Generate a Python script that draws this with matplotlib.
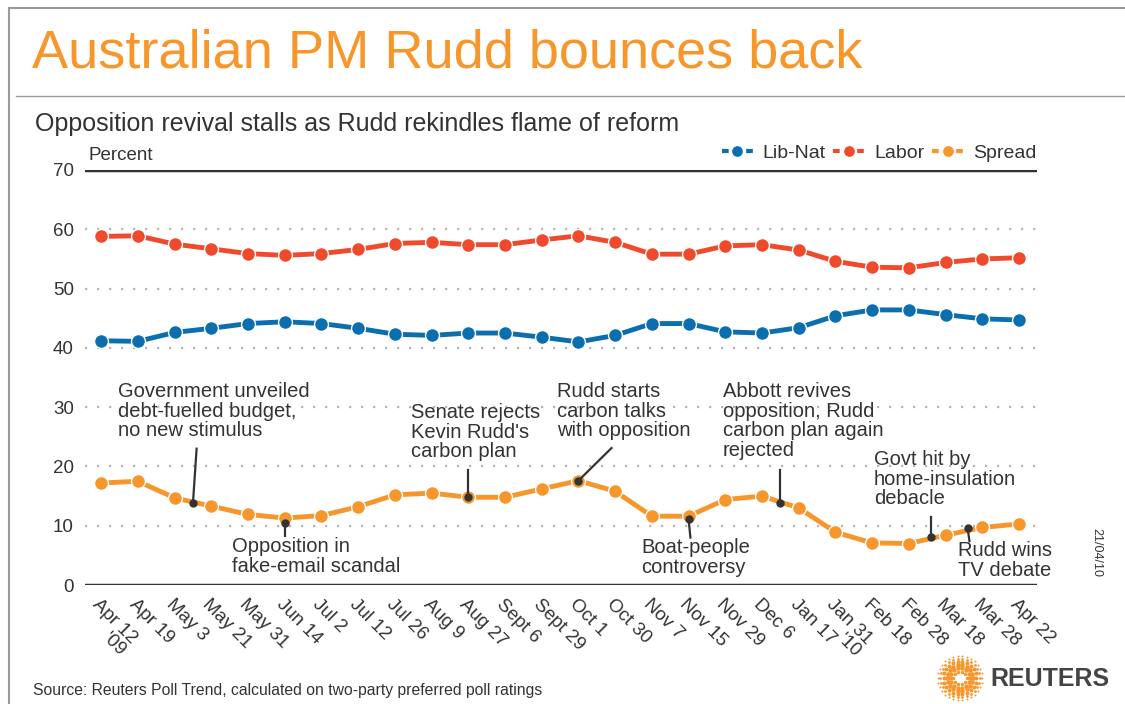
import numpy as np
import matplotlib
matplotlib.use("Agg")
import matplotlib.pyplot as plt
from matplotlib.lines import Line2D

plt.rcParams['font.family'] = ['Liberation Sans', 'DejaVu Sans']

W, H = 1125, 704

# poll dates (tick labels)
dates = ["Apr 12\n'09", "Apr 19", "May 3", "May 21", "May 31", "Jun 14", "Jul 2",
         "Jul 12", "Jul 26", "Aug 9", "Aug 27", "Sept 6", "Sept 29", "Oct 1",
         "Oct 30", "Nov 7", "Nov 15", "Nov 29", "Dec 6", "Jan 17", "Jan 31\n'10",
         "Feb 18", "Feb 28", "Mar 18", "Mar 28", "Apr 22"]

lib_nat = [41.2, 41.1, 42.6, 43.3, 44.1, 44.4, 44.1, 43.3, 42.3, 42.1, 42.5, 42.5, 41.8,
           41.0, 42.1, 44.1, 44.1, 42.7, 42.5, 43.4, 45.4, 46.4, 46.4, 45.6, 44.9, 44.7]
labor = [58.8, 58.9, 57.5, 56.7, 55.9, 55.6, 55.9, 56.6, 57.6, 57.8, 57.4, 57.4, 58.2,
         58.9, 57.8, 55.8, 55.8, 57.2, 57.4, 56.5, 54.6, 53.6, 53.5, 54.4, 55.0, 55.2]
spread = [17.2, 17.5, 14.7, 13.3, 11.9, 11.3, 11.7, 13.2, 15.2, 15.5, 14.8, 14.8, 16.2,
          17.6, 15.8, 11.6, 11.6, 14.4, 15.0, 13.0, 8.9, 7.1, 7.0, 8.4, 9.7, 10.3]

# events: text, (x, y) of the dot, (x, y) of the line end
events = [
    ("Government unveiled\ndebt-fuelled budget,\nno new stimulus", (2.5, 13.8), (2.6, 23.0)),
    ("Opposition in\nfake-email scandal", (5.0, 10.4), (5.0, 8.2)),
    ("Senate rejects\nKevin Rudd's\ncarbon plan", (10.0, 14.9), (10.0, 19.4)),
    ("Rudd starts\ncarbon talks\nwith opposition", (13.0, 17.6), (13.9, 23.1)),
    ("Boat-people\ncontroversy", (16.0, 11.1), (16.05, 8.0)),
    ("Abbott revives\nopposition, Rudd\ncarbon plan again\nrejected", (18.5, 13.9), (18.5, 19.4)),
    ("Govt hit by\nhome-insulation\ndebacle", (22.6, 8.1), (22.6, 11.4)),
    ("Rudd wins\nTV debate", (23.6, 9.6), (23.65, 7.4)),
]
# text anchor (left, top) in pixels for each event
event_text_px = [(118, 382), (232, 537), (411, 403), (557, 382), (641, 538),
                 (723, 382), (874, 450), (958, 541)]

BLUE = "#0b6eaf"
RED = "#f04a2c"
ORANGE = "#f7962b"
DARK = "#333333"

fig = plt.figure(figsize=(W / 100, H / 100), dpi=100)


def fx(px):
    return px / W


def fy(py):
    return 1 - py / H


# frame lines
fig.add_artist(Line2D([fx(9), fx(9)], [0, fy(8)], color="#9a9a9a", lw=1.5))
fig.add_artist(Line2D([fx(9), 1], [fy(8), fy(8)], color="#9a9a9a", lw=1.5))
fig.add_artist(Line2D([fx(16), 1], [fy(96), fy(96)], color="#9a9a9a", lw=1.0))

fig.text(fx(32), fy(53), "Australian PM Rudd bounces back", color="#f7962b",
         fontsize=39, va="center", ha="left")
fig.text(fx(35), fy(124), "Opposition revival stalls as Rudd rekindles flame of reform",
         color=DARK, fontsize=18, va="center", ha="left")

ax = fig.add_axes([fx(85), fy(585), fx(1037) - fx(85), fy(170) - fy(585)])
x = np.arange(len(dates))

for v in range(10, 70, 10):
    ax.axhline(v, color="#b5b5b5", lw=1.6, ls=(0, (1, 4.4)), zorder=0)
ax.axhline(70, color=DARK, lw=2.5, zorder=1)
ax.axhline(0, color=DARK, lw=2.5, zorder=1)

style = dict(lw=3.5, marker="o", ms=10, mec="white", mew=1.0, solid_capstyle="round")
ax.plot(x, lib_nat, color=BLUE, zorder=3, **style)
ax.plot(x, labor, color=RED, zorder=3, **style)
ax.plot(x, spread, color=ORANGE, zorder=3, **style)

for (label, dot, end), (tx, ty) in zip(events, event_text_px):
    ax.plot([dot[0], end[0]], [dot[1], end[1]], color=DARK, lw=1.6, zorder=4)
    ax.plot(dot[0], dot[1], "o", color=DARK, ms=5, zorder=5)
    fig.text(fx(tx), fy(ty), label, color=DARK, fontsize=14.5, ha="left", va="top",
             linespacing=1.05)

ax.set_xlim(-0.44, 25.49)
ax.set_ylim(0, 70)
for s in ax.spines.values():
    s.set_visible(False)
ax.set_yticks(range(0, 80, 10))
ax.set_xticks(x)
ax.set_xticklabels(dates, rotation=-45, ha="left", va="top", rotation_mode="anchor",
                   fontsize=13.5, color=DARK, linespacing=1.0)
for t in ax.get_xticklabels():
    t.set_multialignment("right")
ax.tick_params(axis="x", length=0, pad=8)
ax.tick_params(axis="y", length=0, pad=8, labelsize=13.5, labelcolor=DARK)

fig.text(fx(88), fy(155), "Percent", color=DARK, fontsize=13.5, ha="left", va="center")

handles = [Line2D([], [], color=c, lw=3, ls=(0, (1.6, 1.3)), marker="o", ms=8.5,
                  mec="white", mew=0.8) for c in (BLUE, RED, ORANGE)]
fig.legend(handles, ["Lib-Nat", "Labor", "Spread"], loc="center right",
           bbox_to_anchor=(fx(1054), fy(153)), ncol=3, frameon=False, fontsize=14,
           handlelength=1.6, handletextpad=0.5, columnspacing=0.4, labelcolor=DARK)

fig.text(fx(1096), fy(553), "21/04/10", color=DARK, fontsize=9, rotation=-90,
         ha="center", va="center")
fig.text(fx(33), fy(691), "Source: Reuters Poll Trend, calculated on two-party preferred poll ratings",
         color=DARK, fontsize=11.3, ha="left", va="center")

# Reuters logo: rings of dots
lax = fig.add_axes([fx(936), fy(702), fx(48), fy(654) - fy(702)])
lax.set_xlim(-1.1, 1.1)
lax.set_ylim(-1.1, 1.1)
lax.set_aspect("equal")
lax.axis("off")
for r, n, s in [(0.3, 10, 6), (0.45, 14, 10), (0.6, 18, 11), (0.75, 22, 8), (0.9, 26, 4), (1.02, 30, 2)]:
    ang = np.linspace(0, 2 * np.pi, n, endpoint=False)
    lax.scatter(r * np.cos(ang), r * np.sin(ang), s=s, color=ORANGE, lw=0)
fig.text(fx(990), fy(679), "REUTERS", color="#444444", fontsize=18, fontweight="bold",
         ha="left", va="center")

fig.savefig("out.png", dpi=100)
